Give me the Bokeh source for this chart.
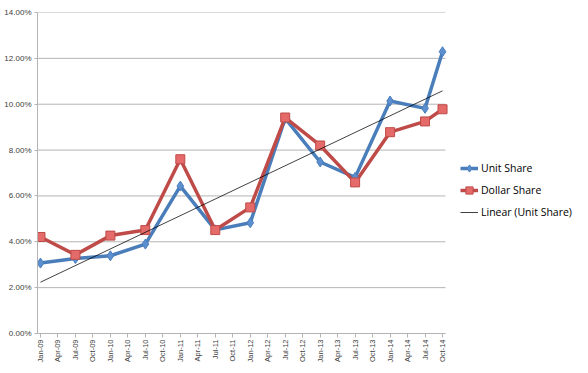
import numpy as np
from bokeh.plotting import figure
from bokeh.models import Range1d, FixedTicker, PrintfTickFormatter, Legend, LegendItem, ColumnDataSource
from bokeh.embed import file_html
from bokeh.resources import INLINE

quarters = ["Jan-09", "Apr-09", "Jul-09", "Oct-09", "Jan-10", "Apr-10", "Jul-10", "Oct-10",
            "Jan-11", "Apr-11", "Jul-11", "Oct-11", "Jan-12", "Apr-12", "Jul-12", "Oct-12",
            "Jan-13", "Apr-13", "Jul-13", "Oct-13", "Jan-14", "Apr-14", "Jul-14", "Oct-14"]
dates = ["Jan-09", "Jul-09", "Jan-10", "Jul-10", "Jan-11", "Jul-11", "Jan-12",
         "Jul-12", "Jan-13", "Jul-13", "Jan-14", "Jul-14", "Oct-14"]
unit_share = [3.07, 3.27, 3.39, 3.90, 6.43, 4.52, 4.83, 9.38, 7.48, 6.81, 10.14, 9.82, 12.29]
dollar_share = [4.21, 3.43, 4.27, 4.51, 7.60, 4.51, 5.50, 9.42, 8.20, 6.59, 8.78, 9.25, 9.78]
y_ticks = [0, 2, 4, 6, 8, 10, 12, 14]

x = [quarters.index(d) for d in dates]
coef = np.polyfit(x, unit_share, 1)
trend_x = [x[0], x[-1]]
trend_y = list(np.polyval(coef, trend_x))

src = ColumnDataSource(dict(x=x, unit=unit_share, dollar=dollar_share))

# plot area spans Jan-09 - 0.17 .. Oct-14 + 0.17 (quarter units); frame extended right for legend
x_lo, x_hi = -0.17, len(quarters) - 1 + 0.17
left_b, right_b = 37, 8
frame_w = 580 - left_b - right_b
x_end = x_lo + (x_hi - x_lo) * frame_w / 408.0

p = figure(width=580, height=365, output_backend="svg", toolbar_location=None,
           x_range=Range1d(x_lo, x_end), y_range=Range1d(0, 14),
           min_border_left=left_b, min_border_top=12, min_border_bottom=31, min_border_right=right_b)
p.outline_line_color = None
p.xgrid.grid_line_color = None
p.ygrid.grid_line_color = None
p.segment(x0=[x_lo] * len(y_ticks), x1=[x_hi] * len(y_ticks), y0=y_ticks, y1=y_ticks,
          line_color="#b4b4b4", line_width=1)

p.yaxis.ticker = FixedTicker(ticks=y_ticks)
p.yaxis.formatter = PrintfTickFormatter(format="%.2f%%")
p.yaxis.minor_tick_line_color = None
p.yaxis.major_tick_out = 3
p.yaxis.major_tick_in = 0
p.yaxis.major_label_standoff = 3
p.yaxis.axis_line_color = "#b4b4b4"
p.yaxis.major_tick_line_color = "#b4b4b4"
p.yaxis.major_label_text_font = "Liberation Sans"
p.yaxis.major_label_text_font_size = "8px"
p.yaxis.major_label_text_color = "#404040"

p.xaxis.ticker = FixedTicker(ticks=list(range(len(quarters))))
p.xaxis.bounds = (x_lo, x_hi)
p.xaxis.major_label_overrides = {i: q for i, q in enumerate(quarters)}
p.xaxis.major_label_orientation = np.pi / 2
p.xaxis.minor_tick_line_color = None
p.xaxis.major_tick_out = 4
p.xaxis.major_tick_in = 0
p.xaxis.major_label_standoff = 2
p.xaxis.axis_line_color = "#b4b4b4"
p.xaxis.major_tick_line_color = "#b4b4b4"
p.xaxis.major_label_text_font = "Liberation Sans"
p.xaxis.major_label_text_font_size = "7.5px"
p.xaxis.major_label_text_color = "#404040"

r_unit_line = p.line("x", "unit", source=src, line_color="#4a7ebb", line_width=3.5)
r_dollar_line = p.line("x", "dollar", source=src, line_color="#be4b48", line_width=3.5)
r_unit_m = p.scatter("x", "unit", source=src, marker="diamond", size=10,
                     fill_color="#5b8fd0", line_color="#4a7ebb", line_width=1)
r_dollar_m = p.scatter("x", "dollar", source=src, marker="square", size=9,
                       fill_color="#e46b69", line_color="#be4b48", line_width=1)
r_trend = p.line(trend_x, trend_y, line_color="black", line_width=0.75)

legend = Legend(items=[
    LegendItem(label="Unit Share", renderers=[r_unit_line, r_unit_m]),
    LegendItem(label="Dollar Share", renderers=[r_dollar_line, r_dollar_m]),
    LegendItem(label="Linear (Unit Share)", renderers=[r_trend]),
], location=(423, 111))
legend.border_line_color = None
legend.background_fill_alpha = 0
legend.padding = 0
legend.margin = 0
legend.spacing = 2
legend.glyph_width = 18
legend.glyph_height = 20
legend.label_height = 20
legend.label_standoff = 3
legend.label_text_font = "Open Sans"
legend.label_text_font_size = "10.5px"
legend.label_text_color = "#000000"
p.add_layout(legend, "center")

open("out.html", "w").write(file_html(p, INLINE))
